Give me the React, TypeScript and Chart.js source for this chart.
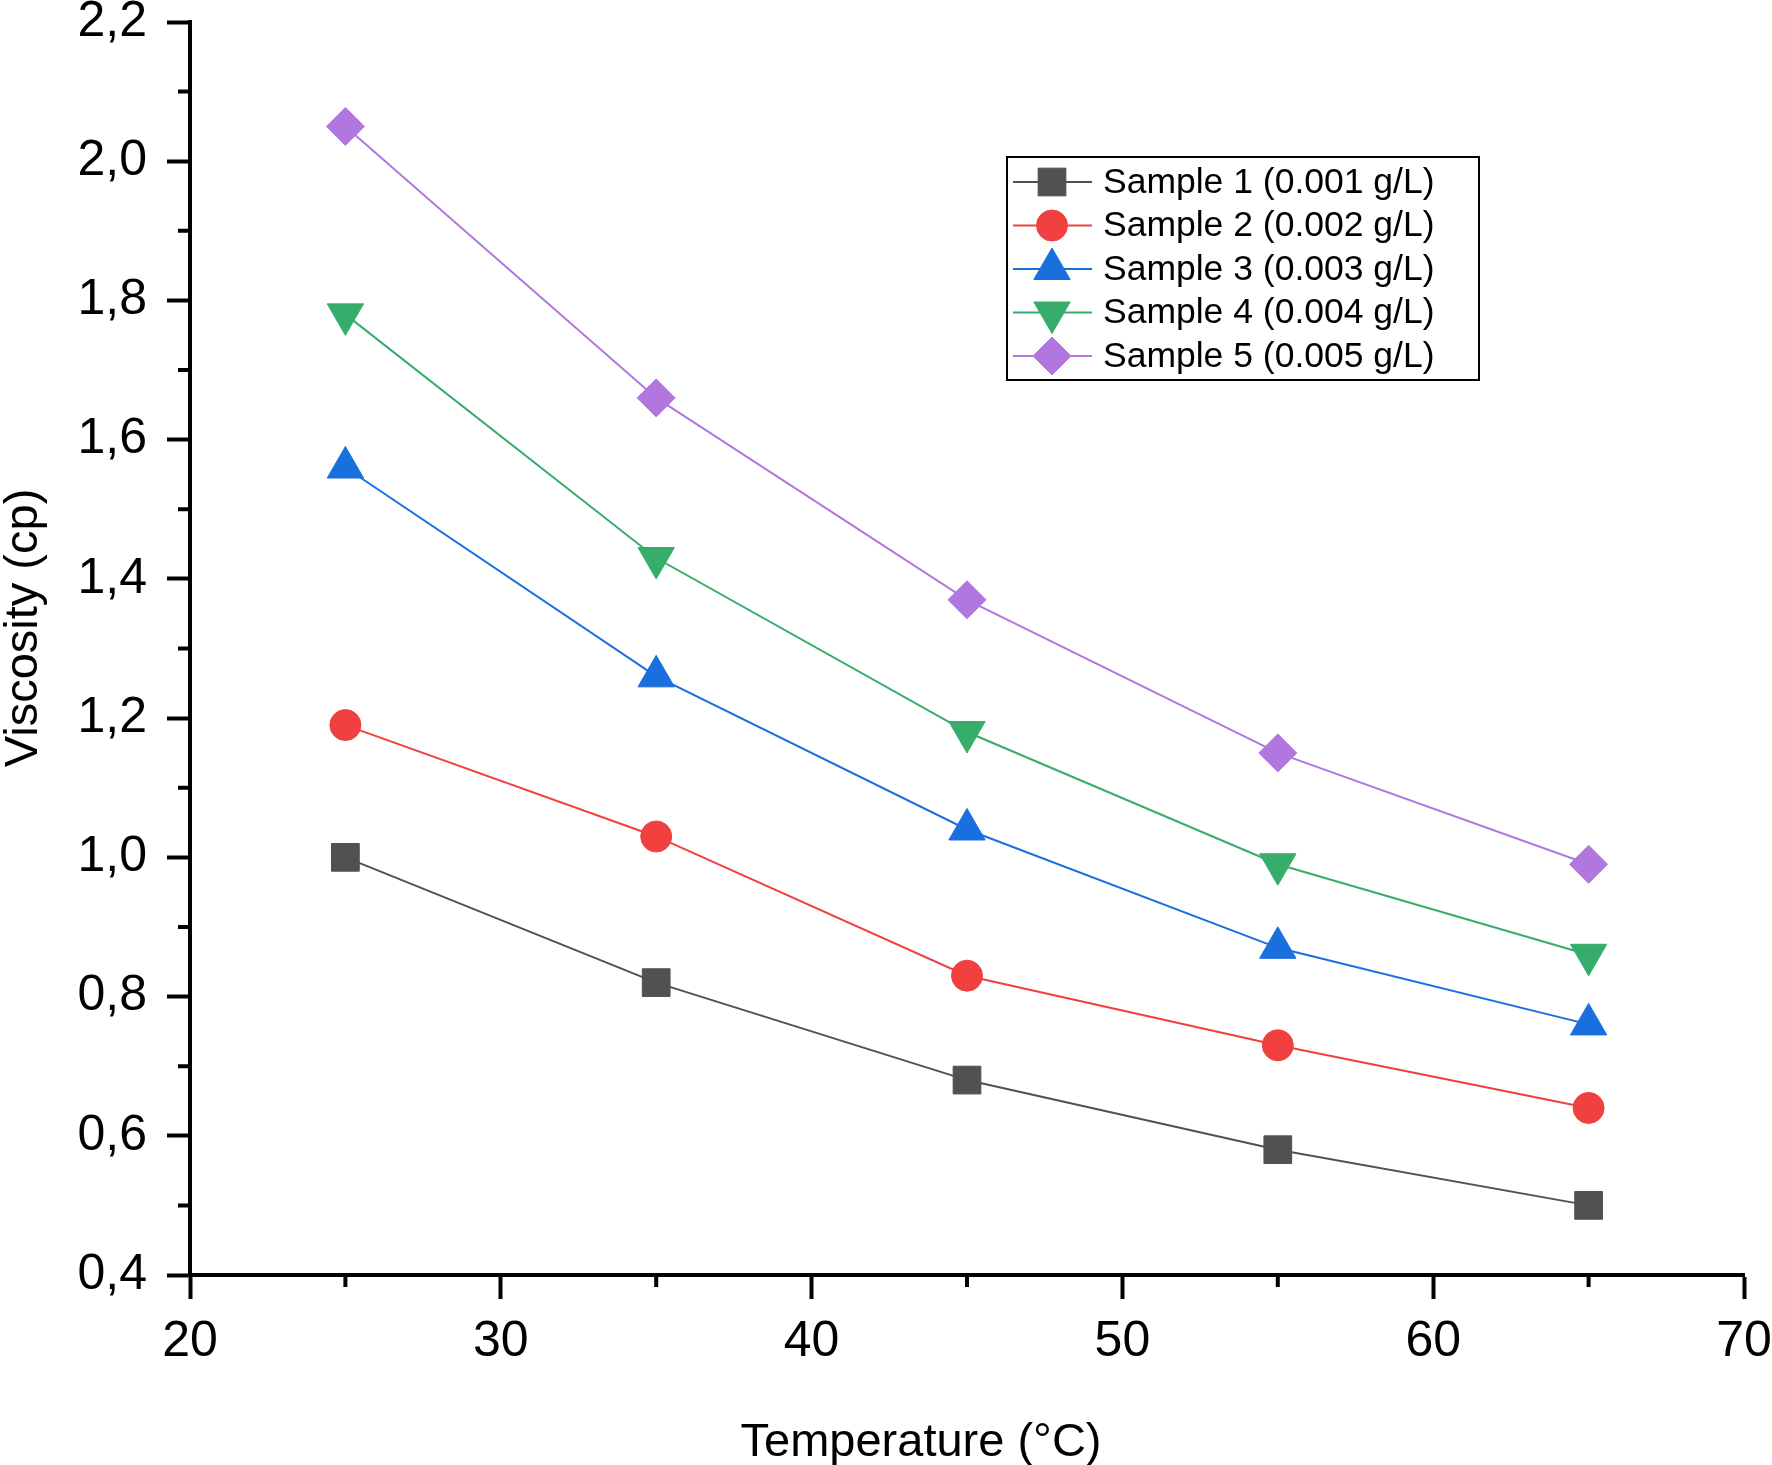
import React, { useEffect, useRef } from 'react';
import { Chart, registerables } from 'chart.js';
import { drawPoint } from 'chart.js/helpers';

Chart.register(...registerables);

// ---- data ----
const temperatures = [25, 35, 45, 55, 65];
const sample1 = [1.0, 0.82, 0.68, 0.58, 0.5];
const sample2 = [1.19, 1.03, 0.83, 0.73, 0.64];
const sample3 = [1.56, 1.26, 1.04, 0.87, 0.76];
const sample4 = [1.78, 1.43, 1.18, 0.99, 0.86];
const sample5 = [2.05, 1.66, 1.37, 1.15, 0.99];
const seriesLabels = [
  'Sample 1 (0.001 g/L)',
  'Sample 2 (0.002 g/L)',
  'Sample 3 (0.003 g/L)',
  'Sample 4 (0.004 g/L)',
  'Sample 5 (0.005 g/L)',
];
const xMinorTicks = [25, 35, 45, 55, 65];
const yMinorTicks = [0.5, 0.7, 0.9, 1.1, 1.3, 1.5, 1.7, 1.9, 2.1];
const xTitle = 'Temperature (°C)';
const yTitle = 'Viscosity (cp)';

// ---- styles ----
const FONT = "'Liberation Sans', Arial, sans-serif";
const seriesColors = ['#515151', '#F14040', '#1A6FDF', '#37AD6B', '#B177DE'];
const seriesStyles: any[] = [
  { pointStyle: 'rect', radius: 19.6, rotation: 0 },
  { pointStyle: 'circle', radius: 15.5, rotation: 0 },
  { pointStyle: 'triangle', radius: 21, rotation: 0 },
  { pointStyle: 'triangle', radius: 21, rotation: 180 },
  { pointStyle: 'rectRot', radius: 19, rotation: 0 },
];
const seriesValues = [sample1, sample2, sample3, sample4, sample5];

const minorTicksPlugin = {
  id: 'minorTicks',
  afterDraw(chart: any) {
    const { ctx, chartArea, scales } = chart;
    const x = scales.x;
    const y = scales.y;
    ctx.save();
    ctx.strokeStyle = '#000';
    ctx.lineWidth = 4;
    ctx.lineCap = 'butt';
    ctx.beginPath();
    for (const v of xMinorTicks) {
      const px = x.getPixelForValue(v);
      ctx.moveTo(px, chartArea.bottom);
      ctx.lineTo(px, chartArea.bottom + 12);
    }
    for (const v of yMinorTicks) {
      const py = y.getPixelForValue(v);
      ctx.moveTo(chartArea.left - 12, py);
      ctx.lineTo(chartArea.left, py);
    }
    ctx.stroke();
    ctx.restore();
  },
};

const titlesPlugin = {
  id: 'axisTitles',
  afterDraw(chart: any) {
    const { ctx, chartArea } = chart;
    ctx.save();
    ctx.fillStyle = '#000';
    ctx.font = `47px ${FONT}`;
    ctx.textAlign = 'center';
    ctx.textBaseline = 'alphabetic';
    ctx.fillText(xTitle, chartArea.left + 731, chartArea.bottom + 181);
    ctx.translate(chartArea.left - 153, chartArea.top + 606);
    ctx.rotate(-Math.PI / 2);
    ctx.fillText(yTitle, 0, 0);
    ctx.restore();
  },
};

const legendPlugin = {
  id: 'boxLegend',
  afterDraw(chart: any) {
    const { ctx, chartArea } = chart;
    const left = chartArea.left + 817;
    const top = chartArea.top + 135;
    const w = 472;
    const h = 223;
    ctx.save();
    ctx.fillStyle = '#fff';
    ctx.fillRect(left, top, w, h);
    ctx.strokeStyle = '#000';
    ctx.lineWidth = 2;
    ctx.strokeRect(left, top, w, h);
    ctx.font = `35.5px ${FONT}`;
    ctx.textBaseline = 'middle';
    ctx.textAlign = 'left';
    chart.data.datasets.forEach((ds: any, i: number) => {
      const cy = top + 25 + i * 43.5;
      ctx.strokeStyle = ds.borderColor;
      ctx.lineWidth = 2;
      ctx.beginPath();
      ctx.moveTo(left + 6, cy);
      ctx.lineTo(left + 85, cy);
      ctx.stroke();
      ctx.fillStyle = ds.backgroundColor;
      ctx.strokeStyle = ds.borderColor;
      ctx.lineWidth = 1;
      drawPoint(ctx, { pointStyle: ds.pointStyle, rotation: ds.pointRotation, radius: ds.pointRadius, borderWidth: 1 }, left + 45, cy);
      ctx.fillStyle = '#000';
      ctx.fillText(ds.label, left + 96, cy + 1);
    });
    ctx.restore();
  },
};

export default function App() {
  const canvasRef = useRef<HTMLCanvasElement | null>(null);

  useEffect(() => {
    document.body.style.overflow = 'hidden';
    const canvas = canvasRef.current;
    if (!canvas) return;
    const datasets = seriesValues.map((vals, i) => ({
      label: seriesLabels[i],
      data: temperatures.map((t, j) => ({ x: t, y: vals[j] })),
      borderColor: seriesColors[i],
      backgroundColor: seriesColors[i],
      borderWidth: 2,
      showLine: true,
      pointStyle: seriesStyles[i].pointStyle,
      pointRadius: seriesStyles[i].radius,
      pointRotation: seriesStyles[i].rotation,
      pointBorderWidth: 1,
      pointBorderColor: seriesColors[i],
      pointBackgroundColor: seriesColors[i],
      pointHoverRadius: seriesStyles[i].radius,
      tension: 0,
    }));

    const chart = new Chart(canvas, {
      type: 'scatter',
      data: { datasets },
      options: {
        animation: false,
        responsive: false,
        devicePixelRatio: 1,
        layout: { padding: { top: 21, right: 28, bottom: 0, left: 0 } },
        plugins: {
          legend: { display: false },
          tooltip: { enabled: false },
        },
        scales: {
          x: {
            type: 'linear',
            min: 20,
            max: 70,
            ticks: {
              stepSize: 10,
              color: '#000',
              font: { family: FONT, size: 50 },
              padding: 13,
              maxRotation: 0,
            },
            grid: {
              drawOnChartArea: false,
              drawTicks: true,
              tickLength: 24,
              tickWidth: 4,
              tickColor: '#000',
            },
            border: { display: true, width: 4, color: '#000' },
            afterFit(scale: any) {
              scale.height = 190;
              scale.paddingLeft = 0;
              scale.paddingRight = 0;
            },
          },
          y: {
            type: 'linear',
            min: 0.4,
            max: 2.2,
            ticks: {
              stepSize: 0.2,
              color: '#000',
              font: { family: FONT, size: 50 },
              padding: 20,
              callback: (v: any) => Number(v).toFixed(1).replace('.', ','),
            },
            grid: {
              drawOnChartArea: false,
              drawTicks: true,
              tickLength: 23,
              tickWidth: 4,
              tickColor: '#000',
            },
            border: { display: true, width: 4, color: '#000' },
            afterFit(scale: any) {
              scale.width = 190;
              scale.paddingTop = 0;
              scale.paddingBottom = 0;
            },
          },
        },
      } as any,
      plugins: [minorTicksPlugin, titlesPlugin, legendPlugin],
    });
    return () => chart.destroy();
  }, []);

  return (
    <div style={{ position: 'absolute', left: 0, top: 0, width: 1772, height: 1465, background: '#fff' }}>
      <canvas ref={canvasRef} width={1772} height={1465} style={{ width: 1772, height: 1465, display: 'block' }} />
    </div>
  );
}
